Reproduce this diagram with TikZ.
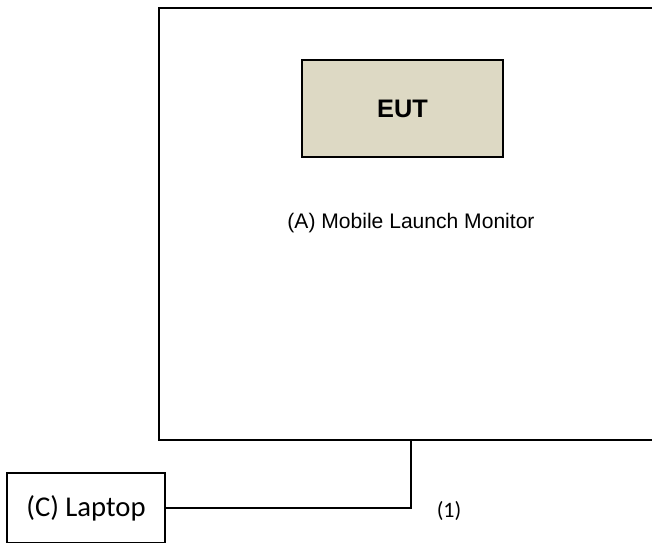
\documentclass[tikz,border=0pt]{standalone}
\usepackage{fontspec}
\setmainfont{Liberation Sans}
\newfontfamily\carlito{Carlito}
\usetikzlibrary{positioning}
\definecolor{eutfill}{RGB}{221,217,196}

\begin{document}
\begin{tikzpicture}[x=0.75pt,y=-0.75pt]
  \useasboundingbox (0,0) rectangle (652,542);
  \begin{scope}[every node/.style={draw,rectangle,inner sep=0pt}]
    \node (monitor) [line width=1.5pt,minimum width=391.5pt,minimum height=324pt,anchor=north west] at (158,7) {};
    \node (eut) [line width=1.1pt,fill=eutfill,minimum width=150.75pt,minimum height=72.75pt,font=\fontsize{19}{21}\selectfont\bfseries] at (402.5,108.5) {EUT};
    \node (laptop) [line width=1.2pt,minimum width=118.5pt,minimum height=52.5pt,font=\carlito\fontsize{21.5}{24}\selectfont] at (86,508) {(C) Laptop};
  \end{scope}

  \node (monitorlabel) [font=\fontsize{15.8}{18}\selectfont] at (411,223) {(A) Mobile Launch Monitor};
  \node (cable) [font=\carlito\fontsize{16.5}{19}\selectfont] at (449,511) {(1)};

  \draw[line width=1.2pt] (laptop.east) -| (monitorlabel |- monitor.south);
\end{tikzpicture}
\end{document}
